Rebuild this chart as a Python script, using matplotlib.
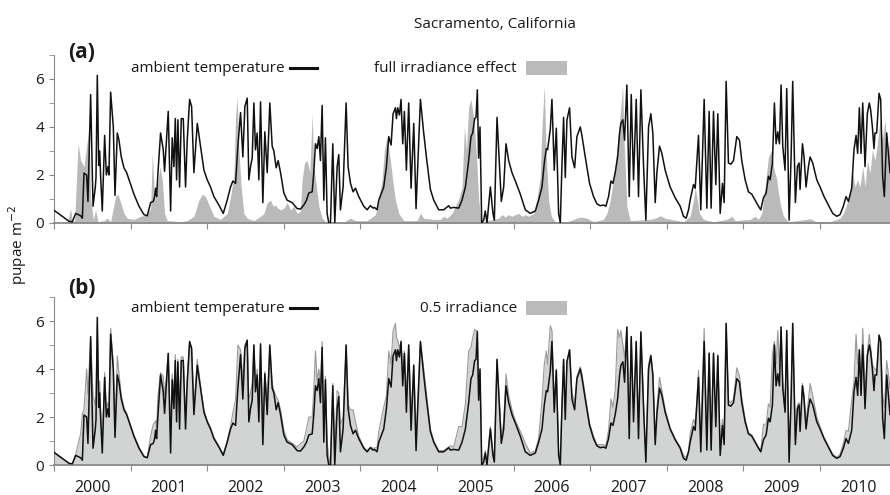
import numpy as np
import matplotlib
matplotlib.use("Agg")
from matplotlib import pyplot as plt
from matplotlib.lines import Line2D
from matplotlib.patches import Rectangle

plt.rcParams['font.family'] = ['Open Sans', 'DejaVu Sans']

# ambient temperature run (years after 1 Jan 2000, pupae m-2) - same line in both panels
amb_t = [0.000, 0.196, 0.239, 0.283, 0.348, 0.370, 0.391, 0.426, 0.443, 0.478,
         0.509, 0.539, 0.548, 0.565, 0.583, 0.596, 0.609, 0.630, 0.661, 0.683,
         0.704, 0.717, 0.739, 0.774, 0.796, 0.826, 0.848, 0.878, 0.913, 0.948,
         1.000, 1.043, 1.109, 1.174, 1.217, 1.261, 1.296, 1.313, 1.326, 1.339,
         1.357, 1.391, 1.426, 1.443, 1.465, 1.491, 1.522, 1.543, 1.565, 1.583,
         1.600, 1.617, 1.639, 1.661, 1.687, 1.717, 1.739, 1.770, 1.796, 1.826,
         1.870, 1.913, 1.957, 2.000, 2.043, 2.087, 2.152, 2.209, 2.261, 2.304,
         2.335, 2.370, 2.400, 2.435, 2.465, 2.491, 2.522, 2.543, 2.565, 2.587,
         2.609, 2.630, 2.652, 2.674, 2.696, 2.726, 2.752, 2.783, 2.817, 2.848,
         2.870, 2.900, 2.926, 2.957, 3.000, 3.043, 3.109, 3.174, 3.217, 3.261,
         3.296, 3.326, 3.370, 3.391, 3.413, 3.435, 3.457, 3.478, 3.500, 3.522,
         3.543, 3.565, 3.587, 3.609, 3.639, 3.665, 3.696, 3.717, 3.739, 3.774,
         3.813, 3.839, 3.870, 3.904, 3.935, 3.978, 4.043, 4.087, 4.130, 4.165,
         4.183, 4.217, 4.239, 4.304, 4.339, 4.370, 4.400, 4.426, 4.457, 4.470,
         4.487, 4.509, 4.530, 4.552, 4.574, 4.600, 4.630, 4.661, 4.696, 4.726,
         4.783, 4.826, 4.861, 4.913, 4.957, 5.022, 5.087, 5.152, 5.174, 5.217,
         5.283, 5.326, 5.370, 5.413, 5.443, 5.465, 5.491, 5.509, 5.526, 5.543,
         5.561, 5.583, 5.609, 5.630, 5.652, 5.696, 5.730, 5.748, 5.783, 5.839,
         5.870, 5.900, 5.935, 5.978, 6.022, 6.087, 6.152, 6.217, 6.283, 6.326,
         6.370, 6.400, 6.426, 6.443, 6.478, 6.500, 6.530, 6.557, 6.587, 6.609,
         6.630, 6.652, 6.674, 6.696, 6.730, 6.761, 6.796, 6.826, 6.848, 6.870,
         6.891, 6.935, 6.991, 7.043, 7.087, 7.130, 7.174, 7.204, 7.239, 7.270,
         7.296, 7.326, 7.357, 7.383, 7.400, 7.426, 7.448, 7.478, 7.509, 7.535,
         7.565, 7.600, 7.630, 7.661, 7.696, 7.726, 7.761, 7.791, 7.817, 7.848,
         7.870, 7.904, 7.935, 7.978, 8.043, 8.109, 8.174, 8.217, 8.252, 8.283,
         8.304, 8.348, 8.370, 8.391, 8.413, 8.443, 8.487, 8.522, 8.552, 8.578,
         8.609, 8.639, 8.665, 8.696, 8.726, 8.748, 8.774, 8.804, 8.835, 8.870,
         8.913, 8.948, 8.978, 9.022, 9.065, 9.109, 9.152, 9.196, 9.226, 9.261,
         9.296, 9.326, 9.348, 9.378, 9.404, 9.426, 9.448, 9.470, 9.491, 9.513,
         9.543, 9.565, 9.596, 9.622, 9.643, 9.678, 9.704, 9.726, 9.739, 9.770,
         9.791, 9.817, 9.848, 9.870, 9.904, 9.957, 10.000, 10.052, 10.109, 10.165,
         10.217, 10.261, 10.304, 10.339, 10.370, 10.413, 10.443, 10.470, 10.491, 10.513,
         10.535, 10.557, 10.587, 10.617, 10.643, 10.661, 10.683, 10.704, 10.717, 10.739,
         10.770, 10.791, 10.817, 10.839, 10.870, 10.913]
amb_v = [0.53, 0.07, 0.05, 0.40, 0.30, 0.20, 2.08, 2.00, 0.90, 5.35,
         0.70, 1.50, 1.90, 6.15, 2.40, 3.00, 1.90, 0.50, 3.65, 2.00,
         2.35, 2.00, 5.45, 4.00, 1.15, 3.75, 3.45, 2.75, 2.30, 2.10,
         1.60, 1.20, 0.70, 0.35, 0.30, 0.85, 0.90, 1.10, 1.45, 1.10,
         2.10, 3.75, 3.05, 2.15, 3.30, 4.65, 0.50, 3.55, 2.35, 4.35,
         1.80, 4.30, 1.50, 4.35, 4.35, 1.50, 3.45, 5.15, 4.85, 2.10,
         4.15, 3.20, 2.20, 1.80, 1.50, 1.10, 0.75, 0.40, 0.95, 1.50,
         1.75, 1.65, 3.20, 4.60, 2.75, 4.85, 5.20, 1.80, 2.35, 2.70,
         5.00, 3.05, 3.75, 1.80, 5.05, 0.85, 3.80, 2.10, 5.00, 3.20,
         3.00, 2.30, 2.60, 2.10, 1.25, 0.95, 0.85, 0.60, 0.58, 0.75,
         0.95, 1.25, 1.30, 2.10, 3.30, 3.10, 3.60, 2.60, 4.90, 0.95,
         3.55, 0.40, 0.00, 0.00, 3.30, 0.00, 2.35, 2.85, 0.55, 1.50,
         5.00, 2.35, 1.65, 1.30, 1.45, 1.10, 0.70, 0.55, 0.72, 0.62,
         0.65, 0.55, 0.95, 1.50, 2.35, 3.60, 3.25, 4.55, 4.80, 4.35,
         4.80, 4.50, 5.15, 3.30, 4.65, 2.20, 5.00, 1.45, 4.15, 0.60,
         5.15, 3.75, 2.75, 1.40, 0.95, 0.55, 0.55, 0.72, 0.62, 0.65,
         0.62, 0.95, 1.50, 2.60, 3.60, 3.75, 4.35, 4.40, 5.55, 2.70,
         4.00, 0.00, 0.12, 0.50, 0.00, 1.50, 0.40, 0.12, 4.40, 0.90,
         1.50, 3.30, 2.60, 2.10, 1.75, 1.20, 0.55, 0.40, 0.50, 0.95,
         1.50, 2.50, 3.10, 3.05, 3.90, 5.15, 2.20, 3.95, 0.40, 0.00,
         2.35, 4.40, 1.90, 4.30, 4.80, 2.75, 2.30, 3.60, 3.80, 4.00,
         3.65, 2.75, 1.65, 1.10, 0.80, 0.72, 0.75, 0.70, 1.10, 1.75,
         1.65, 2.10, 2.75, 3.75, 4.15, 4.30, 3.45, 5.75, 1.10, 5.35,
         1.80, 5.15, 1.10, 5.55, 2.35, 0.12, 4.00, 4.55, 3.75, 0.85,
         2.10, 3.20, 2.90, 2.20, 1.50, 1.05, 0.70, 0.28, 0.20, 0.55,
         0.95, 1.60, 1.45, 2.50, 3.65, 0.55, 5.15, 0.62, 4.65, 0.62,
         4.65, 1.60, 4.55, 0.40, 1.65, 0.85, 5.90, 2.50, 2.45, 2.60,
         3.60, 3.45, 2.60, 1.80, 1.30, 1.20, 0.95, 0.70, 0.55, 1.05,
         1.25, 1.95, 1.80, 2.50, 5.00, 3.30, 3.80, 3.30, 5.75, 3.20,
         2.20, 5.60, 0.12, 2.75, 5.90, 0.85, 2.35, 2.50, 1.40, 3.30,
         2.75, 1.50, 2.35, 2.75, 2.50, 1.80, 1.50, 1.10, 0.75, 0.40,
         0.28, 0.35, 0.70, 1.10, 0.90, 1.45, 3.05, 3.65, 2.90, 4.80,
         2.90, 5.00, 2.35, 4.55, 5.00, 4.70, 4.00, 3.10, 3.75, 3.75,
         5.40, 5.15, 1.95, 1.10, 3.75, 2.10]

# 0.5 irradiance run (panel b), read at the same dates
half_v = [0.50, 0.07, 0.05, 0.45, 1.30, 2.15, 2.30, 4.00, 2.95, 5.30,
          2.90, 2.50, 2.90, 5.90, 3.00, 3.50, 2.20, 1.00, 3.85, 2.30,
          2.60, 2.20, 5.70, 4.20, 1.50, 4.55, 3.80, 2.90, 2.40, 2.15,
          1.65, 1.25, 0.75, 0.38, 0.32, 1.20, 1.70, 1.75, 1.85, 1.60,
          2.90, 3.85, 3.70, 2.90, 3.60, 4.65, 1.50, 3.80, 2.90, 4.60,
          2.60, 4.40, 2.60, 4.50, 4.50, 2.00, 3.60, 5.10, 4.90, 2.40,
          4.40, 3.30, 2.30, 1.85, 1.55, 1.15, 0.80, 0.45, 1.00, 1.60,
          2.20, 2.70, 5.00, 4.80, 3.50, 5.00, 5.20, 2.75, 3.00, 3.40,
          5.00, 3.40, 4.00, 2.50, 5.00, 1.50, 3.90, 2.60, 4.90, 3.40,
          3.10, 2.85, 2.70, 2.30, 1.45, 1.05, 0.90, 0.75, 0.90, 1.00,
          1.50, 2.00, 2.00, 3.10, 4.75, 3.50, 4.00, 3.30, 5.15, 1.30,
          3.70, 1.00, 0.30, 0.10, 3.40, 0.60, 3.10, 3.00, 1.70, 2.00,
          5.00, 2.50, 2.30, 2.30, 1.80, 1.20, 0.75, 0.60, 0.75, 0.70,
          0.70, 0.75, 1.40, 2.40, 2.90, 4.75, 4.20, 5.60, 5.90, 5.30,
          5.20, 4.90, 5.10, 3.90, 4.75, 2.90, 5.00, 2.00, 4.20, 1.20,
          5.10, 4.00, 3.00, 1.50, 1.00, 0.60, 0.60, 0.75, 0.80, 0.75,
          1.60, 1.60, 2.55, 4.75, 4.90, 5.30, 5.65, 5.60, 5.60, 2.75,
          4.00, 0.20, 0.30, 0.60, 0.10, 1.60, 0.50, 0.30, 4.40, 1.20,
          1.80, 3.80, 2.90, 2.30, 1.85, 1.40, 0.90, 0.50, 0.60, 1.10,
          2.70, 4.20, 4.75, 4.20, 5.80, 5.60, 2.60, 4.00, 0.60, 0.20,
          2.50, 4.40, 2.20, 4.30, 4.80, 3.00, 2.60, 3.70, 3.90, 4.10,
          3.80, 2.90, 1.75, 1.20, 0.85, 0.85, 0.85, 0.80, 1.45, 2.75,
          2.40, 3.10, 5.65, 5.30, 5.60, 5.00, 4.50, 5.75, 1.80, 5.35,
          2.30, 5.10, 1.40, 5.50, 2.60, 0.30, 4.20, 4.60, 3.85, 1.10,
          2.40, 3.65, 3.10, 2.30, 1.55, 1.10, 0.75, 0.40, 0.30, 0.60,
          1.30, 1.90, 1.70, 2.60, 3.95, 1.00, 5.70, 1.10, 4.70, 1.00,
          4.70, 1.80, 4.60, 0.80, 1.90, 1.20, 5.90, 2.70, 2.60, 2.75,
          4.05, 3.70, 2.80, 1.90, 1.35, 1.25, 1.00, 0.75, 0.60, 1.70,
          1.70, 2.55, 2.40, 4.60, 5.15, 4.20, 5.60, 4.00, 5.75, 3.50,
          2.50, 5.60, 0.40, 2.90, 5.90, 1.10, 2.50, 2.60, 1.60, 3.40,
          2.90, 1.80, 2.70, 3.40, 2.90, 2.00, 1.60, 1.15, 0.80, 0.45,
          0.32, 0.45, 0.90, 1.45, 1.40, 2.70, 3.50, 5.45, 4.20, 4.75,
          3.60, 5.70, 3.00, 4.70, 5.45, 4.90, 4.20, 4.05, 4.00, 3.90,
          5.45, 5.20, 2.95, 2.40, 4.35, 3.20]

# full irradiance effect run (panel a)
full_t = [0.000, 0.174, 0.217, 0.239, 0.270, 0.313, 0.348, 0.391, 0.435, 0.457,
          0.478, 0.513, 0.543, 0.574, 0.652, 0.696, 0.739, 0.804, 0.835, 0.870,
          0.913, 0.957, 1.043, 1.130, 1.217, 1.261, 1.283, 1.313, 1.348, 1.383,
          1.413, 1.443, 1.478, 1.652, 1.739, 1.826, 1.891, 1.935, 1.978, 2.022,
          2.087, 2.174, 2.261, 2.304, 2.348, 2.370, 2.391, 2.413, 2.443, 2.478,
          2.522, 2.609, 2.696, 2.739, 2.783, 2.826, 2.861, 2.891, 2.922, 2.957,
          3.000, 3.043, 3.087, 3.130, 3.174, 3.217, 3.239, 3.270, 3.304, 3.339,
          3.370, 3.391, 3.426, 3.457, 3.500, 3.565, 3.783, 3.826, 3.870, 3.935,
          4.087, 4.196, 4.239, 4.283, 4.313, 4.348, 4.391, 4.426, 4.457, 4.500,
          4.565, 4.739, 4.783, 4.826, 4.957, 5.043, 5.087, 5.130, 5.196, 5.239,
          5.283, 5.326, 5.357, 5.383, 5.413, 5.443, 5.478, 5.513, 5.543, 5.574,
          5.739, 5.804, 5.848, 5.891, 5.935, 5.978, 6.022, 6.065, 6.109, 6.152,
          6.196, 6.261, 6.304, 6.348, 6.370, 6.400, 6.426, 6.457, 6.491, 6.543,
          6.696, 6.783, 6.870, 6.957, 7.043, 7.174, 7.217, 7.261, 7.304, 7.348,
          7.391, 7.422, 7.443, 7.478, 7.522, 7.783, 7.848, 7.913, 7.978, 8.217,
          8.304, 8.348, 8.370, 8.391, 8.426, 8.478, 8.609, 8.783, 8.848, 8.891,
          9.087, 9.152, 9.196, 9.239, 9.283, 9.326, 9.370, 9.391, 9.435, 9.457,
          9.487, 9.522, 9.587, 9.826, 9.870, 9.957, 10.130, 10.261, 10.304, 10.339,
          10.383, 10.426, 10.457, 10.487, 10.522, 10.557, 10.587, 10.617, 10.652, 10.683,
          10.717, 10.748, 10.783, 10.813, 10.848, 10.878, 10.913]
full_v = [0.00, 0.00, 0.60, 0.05, 0.10, 3.30, 2.60, 2.35, 3.45, 4.00,
          1.00, 0.15, 0.55, 0.05, 0.10, 0.20, 0.05, 1.10, 1.20, 0.85,
          0.40, 0.20, 0.15, 0.28, 0.35, 0.62, 2.90, 1.00, 1.50, 2.35,
          1.80, 0.40, 0.10, 0.05, 0.10, 0.28, 0.95, 1.20, 1.10, 0.75,
          0.28, 0.15, 0.40, 1.10, 1.95, 4.45, 5.25, 3.05, 1.50, 0.40,
          0.20, 0.10, 0.28, 0.40, 0.85, 0.95, 0.70, 0.75, 0.62, 0.55,
          0.62, 0.85, 0.55, 0.70, 0.40, 0.50, 1.80, 2.50, 2.60, 2.10,
          4.55, 2.35, 1.50, 0.70, 0.20, 0.00, 0.00, 0.13, 0.20, 0.10,
          0.10, 0.35, 0.95, 1.80, 3.05, 3.60, 2.60, 1.65, 0.95, 0.40,
          0.10, 0.10, 0.40, 0.20, 0.15, 0.15, 0.28, 0.20, 0.40, 0.70,
          1.00, 1.50, 4.00, 3.05, 4.85, 5.15, 4.40, 2.90, 1.00, 0.05,
          0.15, 0.20, 0.35, 0.25, 0.35, 0.28, 0.35, 0.40, 0.28, 0.35,
          0.28, 0.40, 1.00, 1.95, 4.00, 5.70, 2.75, 0.95, 0.28, 0.05,
          0.05, 0.15, 0.25, 0.20, 0.05, 0.15, 0.40, 0.95, 1.80, 3.05,
          4.55, 5.70, 3.30, 0.70, 0.10, 0.15, 0.20, 0.30, 0.20, 0.05,
          0.28, 0.95, 1.50, 1.10, 0.40, 0.15, 0.05, 0.15, 0.28, 0.10,
          0.15, 0.28, 0.15, 0.40, 1.50, 2.75, 3.05, 2.35, 1.80, 1.25,
          0.70, 0.28, 0.05, 0.15, 0.18, 0.05, 0.05, 0.20, 0.40, 0.70,
          1.10, 2.10, 1.50, 1.80, 1.50, 2.35, 1.50, 2.60, 2.10, 3.05,
          2.60, 3.30, 4.30, 3.45, 4.30, 2.90, 3.45]

years = [str(y) for y in range(2000, 2011)]

amb_x = 2000 + np.array(amb_t)
full_x = 2000 + np.array(full_t)

fig = plt.figure(figsize=(8.9, 4.95), dpi=100)
ax_a = fig.add_axes([0.0607, 0.5495, 0.9393, 0.3394])
ax_b = fig.add_axes([0.0607, 0.0606, 0.9393, 0.3394])

spine_col = '#8a8a8a'
txt_col = '#1a1a1a'
for ax in (ax_a, ax_b):
    ax.set_xlim(2000, 2000 + amb_t[-1])
    ax.set_ylim(0, 7)
    ax.spines['top'].set_visible(False)
    ax.spines['right'].set_visible(False)
    ax.spines['left'].set_color(spine_col)
    ax.spines['bottom'].set_color(spine_col)
    ax.spines['bottom'].set_linewidth(1.3)
    ax.set_yticks([0, 2, 4, 6])
    ax.set_yticks([1, 3, 5, 7], minor=True)
    ax.set_xticks(range(2000, 2011))
    ax.tick_params(axis='both', which='both', colors=spine_col, labelcolor=txt_col,
                   labelsize=11, direction='out')
    ax.tick_params(axis='y', which='both', length=3.5)
    ax.tick_params(axis='x', which='major', length=4, labelbottom=False)

# panel a
ax_a.fill_between(full_x, full_v, 0, color='#bababa', lw=0, zorder=1)
ax_a.plot(amb_x, amb_v, color='#111111', lw=1.1, zorder=3)

# panel b
ax_b.fill_between(amb_x, half_v, 0, color='#d2d4d4', lw=0, zorder=1)
ax_b.plot(amb_x, half_v, color='#9a9a9a', lw=0.8, zorder=2)
ax_b.plot(amb_x, amb_v, color='#111111', lw=1.1, zorder=3)
ax_b.set_xticks([y + 0.5 for y in range(2000, 2011)], minor=True)
ax_b.set_xticklabels(years, minor=True)
ax_b.tick_params(axis='x', which='minor', length=0, pad=11, labelsize=11.5)

fig.text(0.556, 1 - 25 / 495, 'Sacramento, California', ha='center', va='center', fontsize=11, color=txt_col)
fig.text(68 / 890, 1 - 52 / 495, '(a)', ha='left', va='center', fontsize=15, fontweight='bold', color=txt_col)
fig.text(68 / 890, 1 - 289 / 495, '(b)', ha='left', va='center', fontsize=15, fontweight='bold', color=txt_col)
fig.text(18 / 890, 1 - 245 / 495, 'pupae m$^{-2}$', rotation=90, ha='center', va='center', fontsize=11, color=txt_col)

# legend pieces
for yc, lab2 in ((68, 'full irradiance effect'), (308, '0.5 irradiance')):
    yf = 1 - yc / 495
    fig.text(285 / 890, yf, 'ambient temperature', ha='right', va='center', fontsize=11, color=txt_col)
    fig.add_artist(Line2D([290 / 890, 317 / 890], [yf, yf], color='#111111', lw=2.2))
    fig.text(517 / 890, yf, lab2, ha='right', va='center', fontsize=11, color=txt_col)
    fig.add_artist(Rectangle((526 / 890, yf - 7 / 495), 41 / 890, 14 / 495, color='#bababa', lw=0))

fig.savefig('out.png', dpi=100)
